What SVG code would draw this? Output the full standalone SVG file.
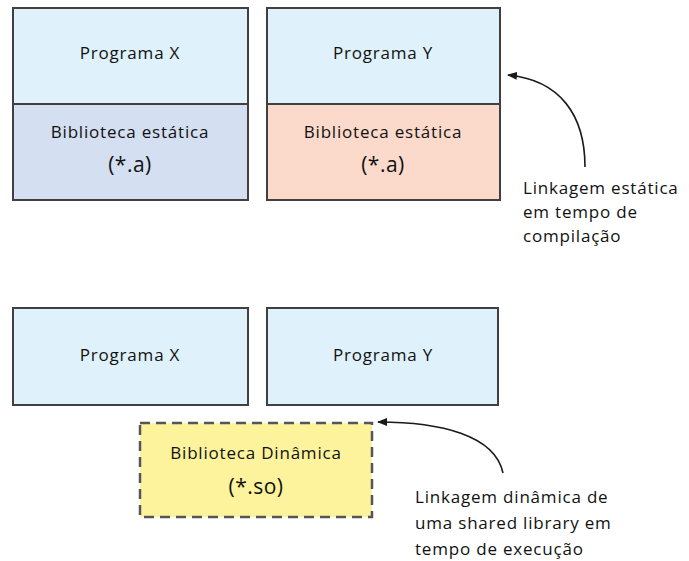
<svg xmlns="http://www.w3.org/2000/svg" width="689" height="561" viewBox="0 0 689 561">
  <defs>
    <style>
      .box { stroke: #404040; stroke-width: 2; }
      .prog { fill: #dff1fb; }
      .libx { fill: #d4dff1; }
      .liby { fill: #fcdacb; }
      .dyn { fill: #fdf39d; stroke: #555555; stroke-width: 2.5; stroke-dasharray: 10 6; }
      .t { font-family: "Open Sans", "Noto Sans", sans-serif; font-size: 17px; letter-spacing: 0.8px; fill: #111111; text-anchor: middle; }
      .big { font-size: 21px; letter-spacing: 0.5px; }
      .note { font-family: "Open Sans", "Noto Sans", sans-serif; font-size: 17px; letter-spacing: 0.8px; fill: #111111; }
      .conn { fill: none; stroke: #1a1a1a; stroke-width: 1.6; }
    </style>
    <marker id="head" viewBox="0 0 10 10" refX="9" refY="5" markerWidth="10" markerHeight="10" orient="auto" markerUnits="userSpaceOnUse">
      <path d="M0,1 L10,5 L0,9 Z" fill="#1a1a1a"/>
    </marker>
  </defs>
  <rect width="689" height="561" fill="#ffffff"/>

  <!-- static linking: program X with its own copy of the library -->
  <g id="static-x">
    <rect class="box prog" x="13" y="8" width="235" height="96"/>
    <rect class="box libx" x="13" y="104" width="235" height="96"/>
    <text class="t" x="130" y="59">Programa X</text>
    <text class="t" x="130" y="138">Biblioteca estática</text>
    <text class="t big" x="130" y="172">(*.a)</text>
  </g>

  <!-- static linking: program Y with its own copy of the library -->
  <g id="static-y">
    <rect class="box prog" x="267" y="8" width="233" height="96"/>
    <rect class="box liby" x="267" y="104" width="233" height="96"/>
    <text class="t" x="383" y="59">Programa Y</text>
    <text class="t" x="383" y="138">Biblioteca estática</text>
    <text class="t big" x="383" y="172">(*.a)</text>
  </g>

  <g id="static-note">
    <text class="note" x="523" y="194">Linkagem estática</text>
    <text class="note" x="523" y="218">em tempo de</text>
    <text class="note" x="523" y="242">compilação</text>
  </g>

  <!-- dynamic linking: two programs sharing one library -->
  <g id="dyn-x">
    <rect class="box prog" x="13" y="308" width="235" height="97"/>
    <text class="t" x="130" y="361">Programa X</text>
  </g>

  <g id="dyn-y">
    <rect class="box prog" x="267" y="308" width="231" height="97"/>
    <text class="t" x="383" y="361">Programa Y</text>
  </g>

  <g id="shared-lib">
    <rect class="dyn" x="140" y="423" width="232" height="94"/>
    <text class="t" x="256" y="459">Biblioteca Dinâmica</text>
    <text class="t big" x="256" y="494">(*.so)</text>
  </g>

  <g id="dyn-note">
    <text class="note" x="415" y="503">Linkagem dinâmica de</text>
    <text class="note" x="415" y="529">uma shared library em</text>
    <text class="note" x="415" y="555">tempo de execução</text>
  </g>

  <g id="connectors">
    <path class="conn" d="M585,167 C585,115 560,80 508,75" marker-end="url(#head)"/>
    <path class="conn" d="M503,473 C495,435 440,422 378,422" marker-end="url(#head)"/>
  </g>
</svg>
